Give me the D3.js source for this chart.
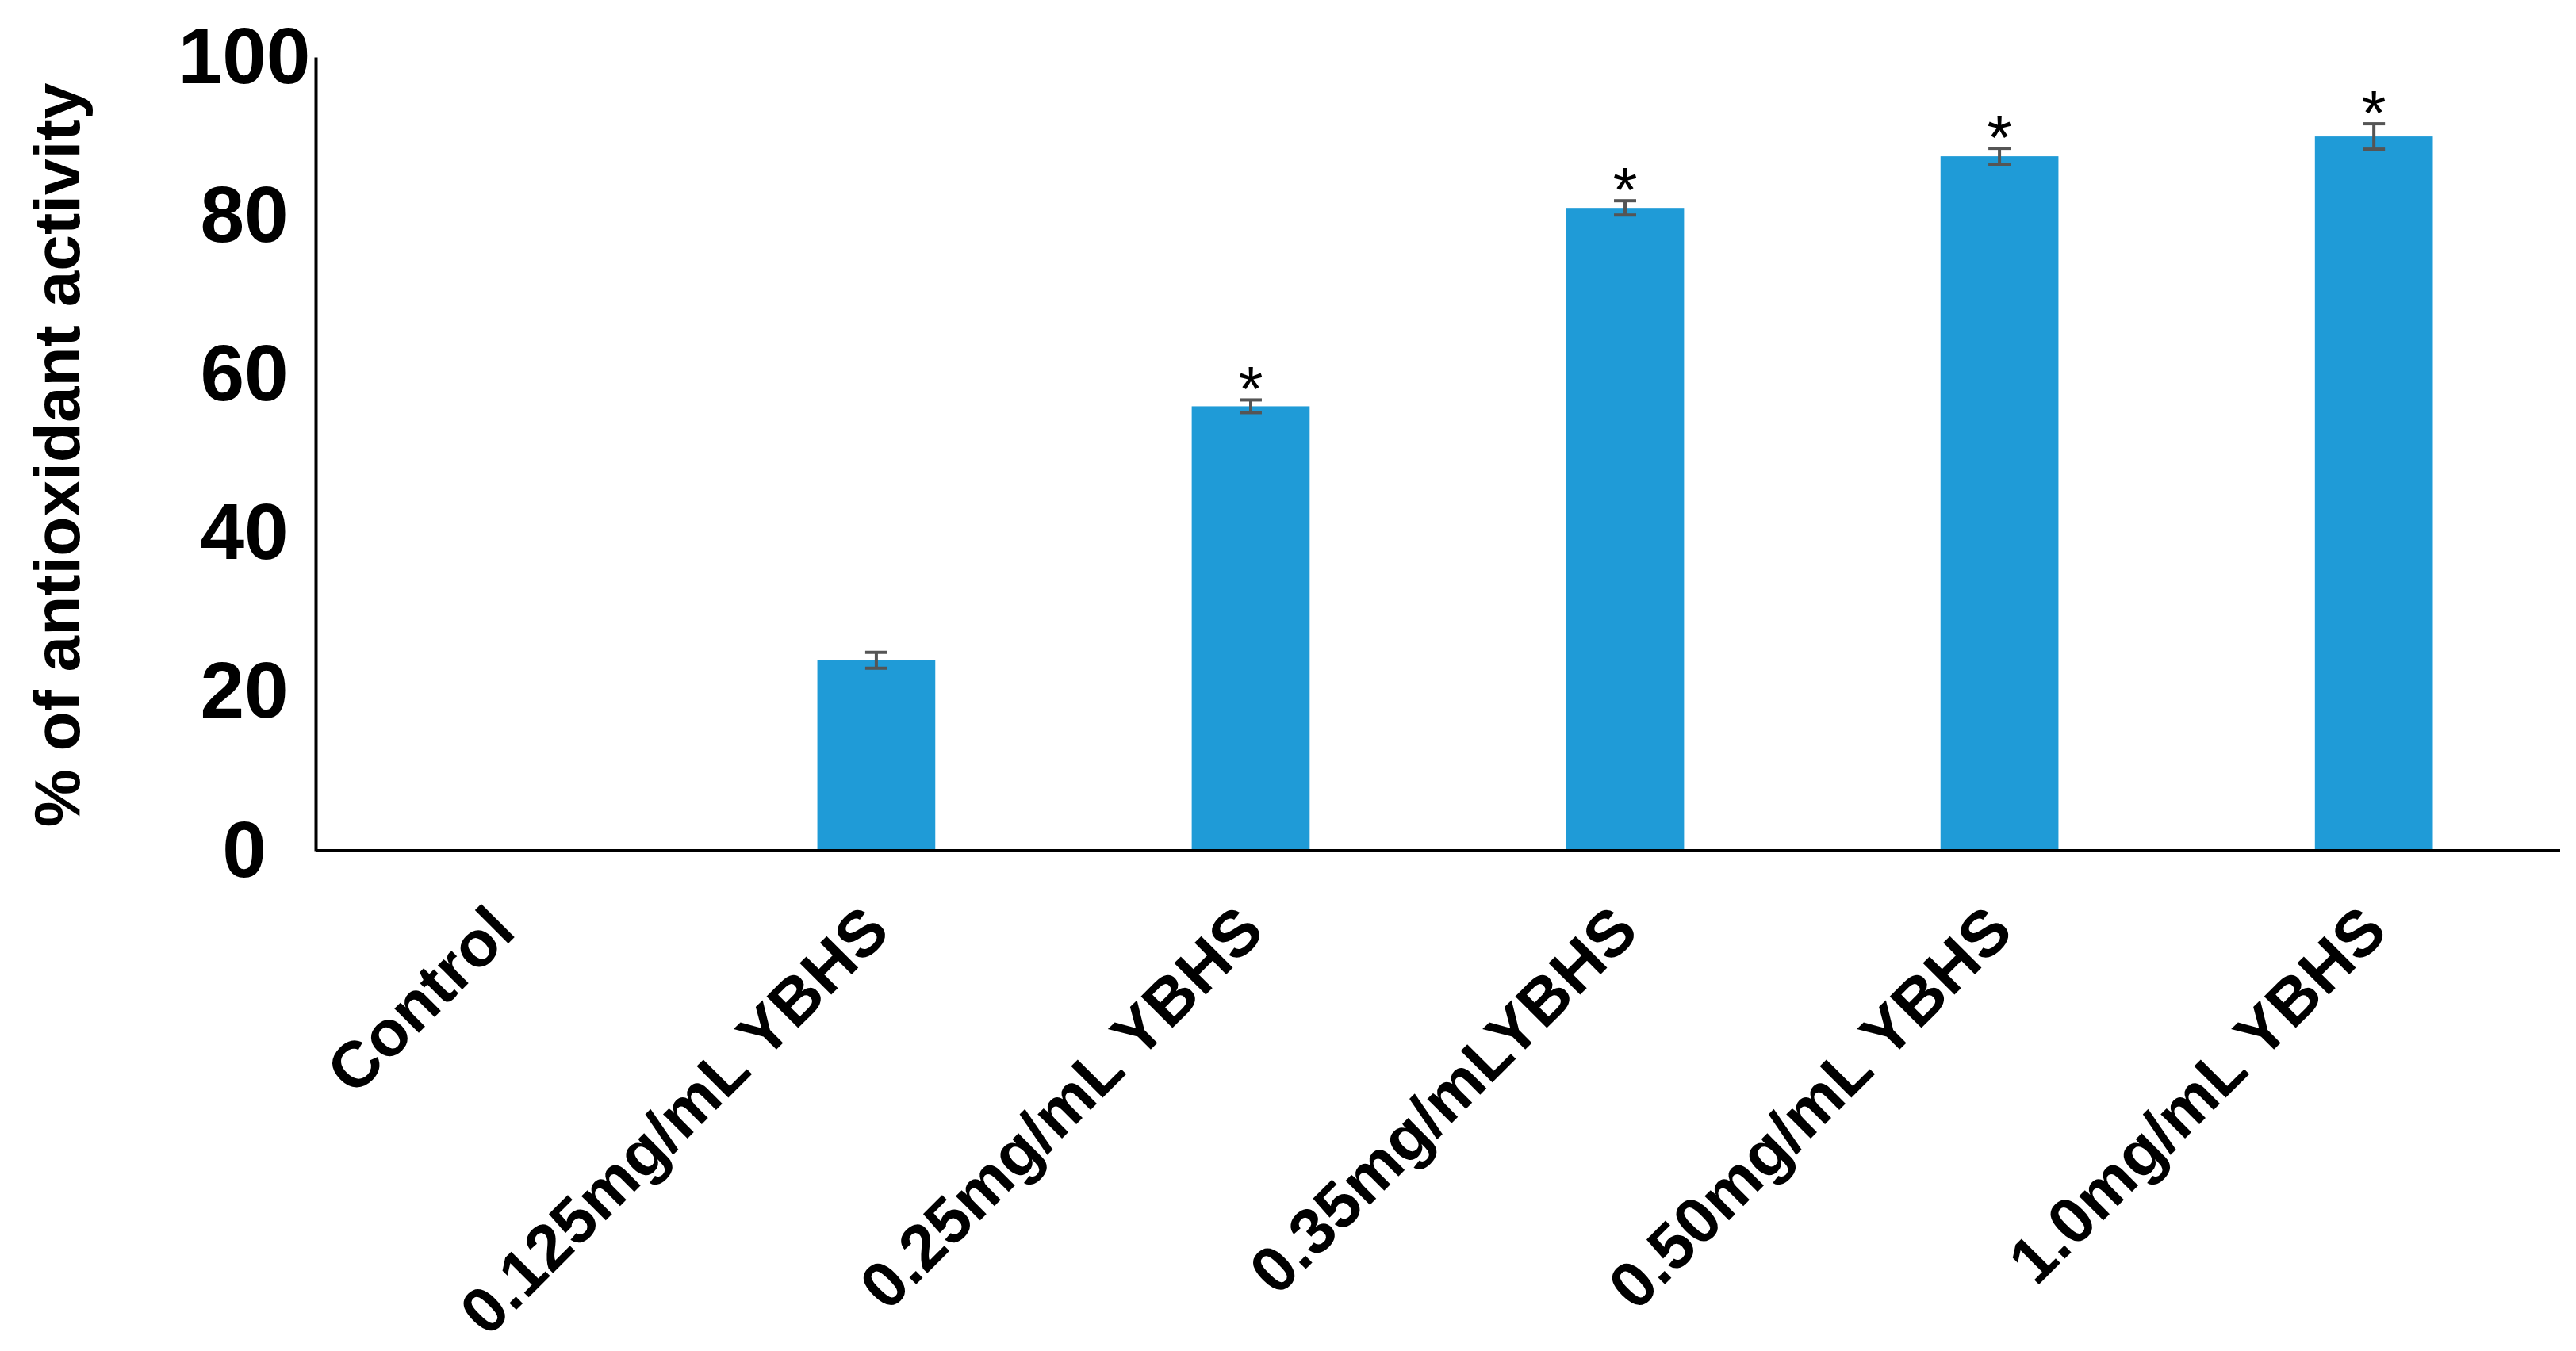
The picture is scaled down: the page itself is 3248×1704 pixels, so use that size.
<!DOCTYPE html><html><head><meta charset="utf-8">
<script src="https://cdn.jsdelivr.net/npm/d3@7"></script>
<style>body{margin:0;background:#fff}</style></head><body>
<svg id="c" width="3248" height="1704"></svg>
<script>
const categories=["Control","0.125mg/mL YBHS","0.25mg/mL YBHS","0.35mg/mLYBHS","0.50mg/mL YBHS","1.0mg/mL YBHS"];
const values=[0,24,56,81,87.5,90];
const errors=[0,1,0.8,0.9,1,1.6];
const stars=[false,false,true,true,true,true];
const yTicks=[0,20,40,60,80,100];

const svg=d3.select("#c");
const L=398,R=3228,T=72,B=1073;
const x=d3.scaleBand().domain(categories).range([L,R]).paddingInner(0.685).paddingOuter(0.34);
const y=d3.scaleLinear().domain([0,100]).range([B,T]);
const font="Liberation Sans, Arial, sans-serif";

const ya=svg.append("g").attr("transform",`translate(${L},0)`).call(d3.axisLeft(y).tickValues(yTicks).tickSize(0).tickPadding(90));
ya.select(".domain").attr("stroke","#000").attr("stroke-width",4);
ya.selectAll("text").attr("font-family",font).attr("font-size",100).attr("font-weight","bold").attr("fill","#000").attr("text-anchor","middle").attr("dx",0);

svg.selectAll("rect.bar").data(values).join("rect").attr("class","bar")
 .attr("x",(d,i)=>x(categories[i])).attr("width",x.bandwidth())
 .attr("y",d=>y(d)).attr("height",d=>B-y(d)).attr("fill","#1F9BD7");

const xa=svg.append("g").attr("transform",`translate(0,${B})`).call(d3.axisBottom(x).tickSize(0).tickPadding(0));
xa.select(".domain").attr("stroke","#000").attr("stroke-width",4).attr("d",`M${L},0H${R}`);
xa.selectAll("text").attr("font-family",font).attr("font-size",82).attr("font-weight","bold").attr("fill","#000")
 .attr("text-anchor","end").attr("dy",0).attr("transform","translate(20,105) rotate(-45)");

const eb=svg.append("g").attr("stroke","#555").attr("stroke-width",4);
values.forEach((v,i)=>{
 if(!errors[i])return;
 const cx=x(categories[i])+x.bandwidth()/2;
 eb.append("line").attr("x1",cx).attr("x2",cx).attr("y1",y(v+errors[i])).attr("y2",y(v-errors[i]));
 [v+errors[i],v-errors[i]].forEach(e=>eb.append("line").attr("x1",cx-14).attr("x2",cx+14).attr("y1",y(e)).attr("y2",y(e)));
 if(stars[i])svg.append("text").attr("x",cx).attr("y",y(v+errors[i])+14).attr("text-anchor","middle")
   .attr("font-family",font).attr("font-size",80).attr("fill","#000").text("*");
});

svg.append("text").attr("transform","translate(100,574) rotate(-90)").attr("text-anchor","middle")
 .attr("font-family",font).attr("font-size",82).attr("font-weight","bold").text("% of antioxidant activity");
</script></body></html>
